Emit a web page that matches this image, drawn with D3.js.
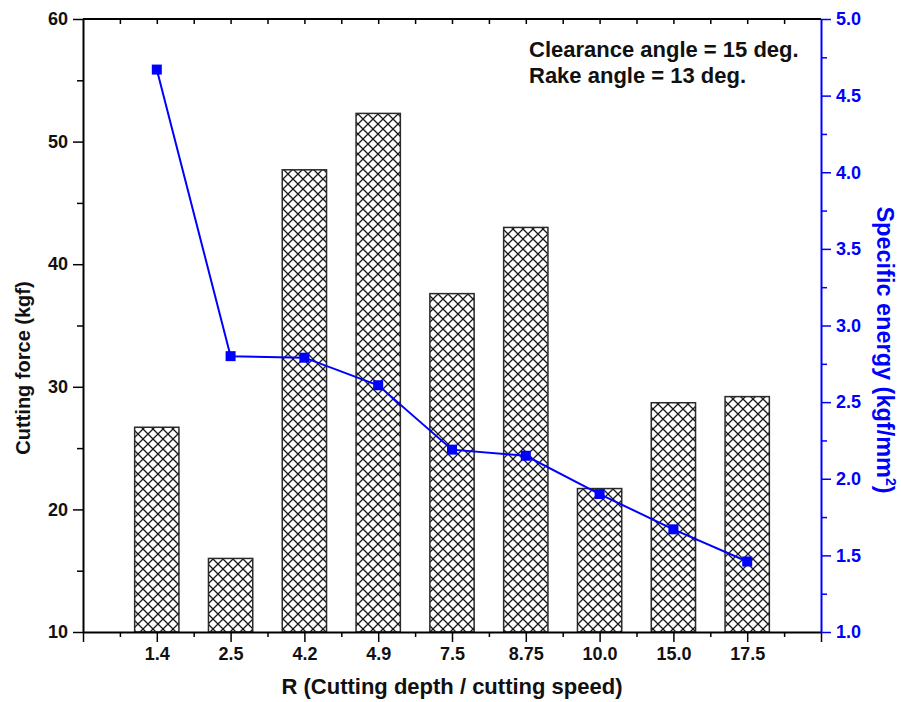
<!DOCTYPE html>
<html>
<head>
<meta charset="utf-8">
<script src="https://cdn.jsdelivr.net/npm/d3@7"></script>
<style>
  body { margin: 0; background: #fff; }
  svg text { font-family: "Liberation Sans", Arial, sans-serif; font-weight: bold; }
</style>
</head>
<body>
<svg class="chart" width="901" height="702"></svg>
<script>
const categories = ["1.4", "2.5", "4.2", "4.9", "7.5", "8.75", "10.0", "15.0", "17.5"];
const cuttingForce = [26.7, 16.0, 47.7, 52.3, 37.6, 43.0, 21.7, 28.7, 29.2];
const specificEnergy = [4.67, 2.80, 2.79, 2.61, 2.19, 2.15, 1.90, 1.67, 1.46];
const leftTicks = [10, 20, 30, 40, 50, 60];
const rightTicks = [1.0, 1.5, 2.0, 2.5, 3.0, 3.5, 4.0, 4.5, 5.0];

const svg = d3.select("svg.chart");
const margin = { top: 19, right: 80, bottom: 70, left: 83 };
const width = 901 - margin.left - margin.right;
const height = 702 - margin.top - margin.bottom;
const g = svg.append("g").attr("transform", `translate(${margin.left}, ${margin.top})`);

const blue = "#0000ff";

// crosshatch fill
const pat = svg.append("defs").append("pattern")
    .attr("id", "hatch")
    .attr("patternUnits", "userSpaceOnUse")
    .attr("width", 10)
    .attr("height", 10);
pat.append("rect").attr("width", 10).attr("height", 10).attr("fill", "#fff");
pat.append("path")
    .attr("d", "M0,0 L10,10 M10,0 L0,10")
    .attr("stroke", "#1a1a1a")
    .attr("stroke-width", 1.3);

const x = d3.scalePoint().domain(categories).range([0, width]).padding(1);
const xl = d3.scaleLinear().domain([0, 10]).range([0, width]);
const y = d3.scaleLinear().domain([10, 60]).range([height, 0]);
const y2 = d3.scaleLinear().domain([1, 5]).range([height, 0]);
const barW = x.step() * 0.6;

// bars
g.selectAll(".bar")
    .data(categories)
    .enter().append("rect")
    .attr("class", "bar")
    .attr("x", d => x(d) - barW / 2)
    .attr("y", (d, i) => y(cuttingForce[i]))
    .attr("width", barW)
    .attr("height", (d, i) => height - y(cuttingForce[i]))
    .attr("fill", "url(#hatch)")
    .attr("stroke", "#2a2a2a")
    .attr("stroke-width", 1.5);

// bottom axis: major ticks on categories, minor at half steps
const halfTicks = d3.range(0, 10.01, 0.5);
g.append("g")
    .attr("transform", `translate(0, ${height})`)
    .call(d3.axisBottom(xl).tickValues(halfTicks.filter(v => v % 1 !== 0)).tickSize(5).tickFormat(""))
    .call(a => a.select(".domain").remove())
    .selectAll("line").attr("stroke-width", 1.5);
g.append("g")
    .attr("transform", `translate(0, ${height})`)
    .call(d3.axisBottom(xl).tickValues([0, 10]).tickSize(10).tickFormat(""))
    .call(a => a.select(".domain").remove())
    .selectAll("line").attr("stroke-width", 1.5);
const xAxis = g.append("g")
    .attr("transform", `translate(0, ${height})`)
    .call(d3.axisBottom(x).tickSize(10).tickSizeOuter(0).tickPadding(5));
xAxis.select(".domain").attr("d", `M0,0.5H${width}`).attr("stroke-width", 2);
xAxis.selectAll("line").attr("stroke-width", 1.5);
xAxis.selectAll("text").attr("font-size", 18).attr("fill", "#111");

// top axis (ticks inward)
const topAxis = g.append("g")
    .call(d3.axisBottom(xl).tickValues(halfTicks.slice(1, -1)).tickSize(5).tickFormat(""));
topAxis.select(".domain").attr("d", `M0,0H${width}`).attr("stroke-width", 2);
topAxis.selectAll("line").attr("stroke-width", 1.5);

// left axis
g.append("g")
    .call(d3.axisLeft(y).tickValues(d3.range(15, 60, 10)).tickSize(6).tickFormat(""))
    .call(a => a.select(".domain").remove())
    .selectAll("line").attr("stroke-width", 1.5);
const yAxis = g.append("g")
    .call(d3.axisLeft(y).tickValues(leftTicks).tickSize(10).tickSizeOuter(0).tickPadding(5));
yAxis.select(".domain").attr("stroke-width", 2);
yAxis.selectAll("line").attr("stroke-width", 1.5);
yAxis.selectAll("text").attr("font-size", 18).attr("fill", "#111");

// right axis (blue)
g.append("g")
    .attr("transform", `translate(${width}, 0)`)
    .call(d3.axisRight(y2).tickValues(d3.range(1.25, 5, 0.5)).tickSize(6).tickFormat(""))
    .call(a => a.select(".domain").remove())
    .selectAll("line").attr("stroke", blue).attr("stroke-width", 1.5);
const y2Axis = g.append("g")
    .attr("transform", `translate(${width}, 0)`)
    .call(d3.axisRight(y2).tickValues(rightTicks).tickSize(10).tickSizeOuter(0).tickPadding(5).tickFormat(d3.format(".1f")));
y2Axis.select(".domain").attr("stroke", blue).attr("stroke-width", 2);
y2Axis.selectAll("line").attr("stroke", blue).attr("stroke-width", 1.5);
y2Axis.selectAll("text").attr("font-size", 18).attr("fill", blue);

// specific energy line
const line = d3.line()
    .x((d, i) => x(categories[i]))
    .y(d => y2(d));
g.append("path")
    .datum(specificEnergy)
    .attr("fill", "none")
    .attr("stroke", blue)
    .attr("stroke-width", 2)
    .attr("d", line);
g.selectAll(".pt")
    .data(specificEnergy)
    .enter().append("rect")
    .attr("class", "pt")
    .attr("x", (d, i) => x(categories[i]) - 5)
    .attr("y", d => y2(d) - 5)
    .attr("width", 10)
    .attr("height", 10)
    .attr("fill", blue);

// axis titles
svg.append("text")
    .attr("transform", "translate(30, 368) rotate(-90)")
    .attr("text-anchor", "middle")
    .attr("font-size", 20)
    .attr("fill", "#111")
    .text("Cutting force (kgf)");

const rt = svg.append("text")
    .attr("transform", "translate(877, 350) rotate(90)")
    .attr("text-anchor", "middle")
    .attr("font-size", 23.5)
    .attr("fill", blue);
rt.append("tspan").text("Specific energy (kgf/mm");
rt.append("tspan").attr("dy", -9).attr("font-size", 14).text("2");
rt.append("tspan").attr("dy", 9).text(")");

svg.append("text")
    .attr("x", margin.left + width / 2)
    .attr("y", 694)
    .attr("text-anchor", "middle")
    .attr("font-size", 22)
    .attr("fill", "#111")
    .text("R (Cutting depth / cutting speed)");

// annotation
svg.append("text").attr("x", 529).attr("y", 57).attr("font-size", 22).attr("fill", "#111")
    .text("Clearance angle = 15 deg.");
svg.append("text").attr("x", 529).attr("y", 83).attr("font-size", 22).attr("fill", "#111")
    .text("Rake angle = 13 deg.");
</script>
</body>
</html>
